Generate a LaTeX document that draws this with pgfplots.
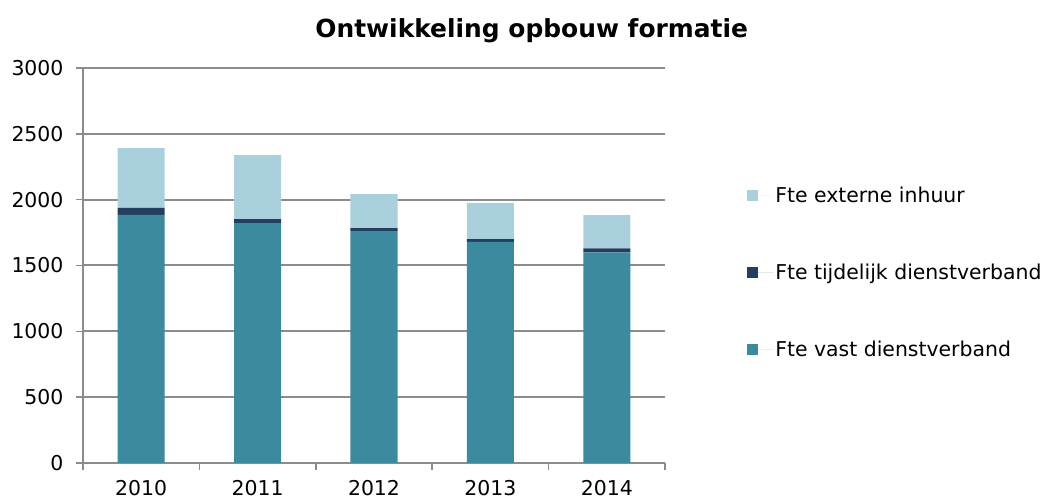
\documentclass[border=0pt]{standalone}
\usepackage{pgfplots}
\pgfplotsset{compat=1.18}
\usepackage{fontspec}
\setmainfont{DejaVu Sans}
\definecolor{vast}{HTML}{3C8AA0}
\definecolor{tijd}{HTML}{243F5E}
\definecolor{ext}{HTML}{AACFDD}
\definecolor{gridc}{HTML}{8C8C8C}
\begin{document}
\begin{tikzpicture}
\path[use as bounding box] (0,0) rectangle (1047bp,499bp);
\begin{axis}[
  at={(83bp,36bp)}, anchor=south west,
  scale only axis, width=582bp, height=395bp,
  ybar stacked, bar width=47bp,
  xmin=-0.5, xmax=4.5, ymin=0, ymax=3000,
  xtick={0,1,2,3,4}, xticklabels={2010,2011,2012,2013,2014},
  minor xtick={-0.5,0.5,1.5,2.5,3.5,4.5},
  ytick={0,500,1000,1500,2000,2500,3000},
  axis lines=left, axis line style={-, draw=gridc, line width=1.5bp},
  ymajorgrids, grid style={draw=gridc, line width=2bp},
  tick align=outside,
  major tick length=7bp, minor tick length=7bp,
  xtick style={draw=none},
  minor x tick style={draw=gridc, line width=1.5bp},
  ytick style={draw=gridc, line width=1.5bp},
  /pgf/number format/assume math mode=true,
  /pgf/number format/1000 sep={},
  tick label style={font=\fontsize{20.5}{22}\selectfont, text=black},
  yticklabel style={xshift=-9bp},
  xticklabel style={yshift=-7bp},
  title={Ontwikkeling opbouw formatie},
  title style={at={(0.771,1.08)}, anchor=center, font=\bfseries\fontsize{25}{27}\selectfont},
  legend style={draw=none, at={(1.141,0.4835)}, anchor=west,
    font=\fontsize{20.5}{22}\selectfont, row sep=56bp, inner sep=0pt},
  reverse legend,
  legend cell align=left,
  legend image code/.code={\fill[#1] (0bp,-5.5bp) rectangle (11bp,5.5bp); \path (0bp,0bp) -- (26bp,0bp);},
]
\addplot[fill=vast, draw=none] coordinates {(0,1885) (1,1822) (2,1761) (3,1680) (4,1600)};
\addplot[fill=tijd, draw=none] coordinates {(0,53) (1,30) (2,23) (3,20) (4,30)};
\addplot[fill=ext, draw=none] coordinates {(0,453) (1,486) (2,258) (3,276) (4,252)};
\legend{Fte vast dienstverband, Fte tijdelijk dienstverband, Fte externe inhuur}
\end{axis}
\end{tikzpicture}
\end{document}
